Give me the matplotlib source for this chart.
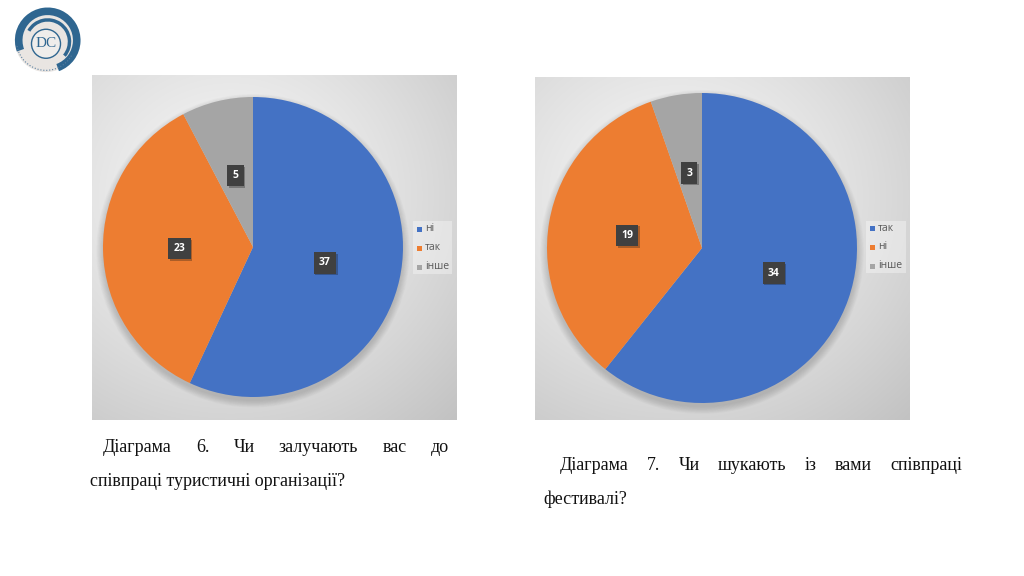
import numpy as np
import matplotlib
matplotlib.use("Agg")
import matplotlib.pyplot as plt
import matplotlib.patches as mpatches
import matplotlib.patheffects as pe

# ---- data ----
cats6 = ["ні", "так", "інше"]
vals6 = [37, 23, 5]
cats7 = ["так", "ні", "інше"]
vals7 = [34, 19, 3]
colors = ["#4472C4", "#ED7D31", "#A5A5A5"]
caption6 = [["Діаграма", "6.", "Чи", "залучають", "вас", "до"],
            ["співпраці туристичні організації?"]]
caption7 = [["Діаграма", "7.", "Чи", "шукають", "із", "вами", "співпраці"],
            ["фестивалі?"]]

W, H = 1024, 576
fig = plt.figure(figsize=(W / 100, H / 100), dpi=100)
fig.patch.set_facecolor("white")


def px_axes(x0, y0, x1, y1, **kw):
    return fig.add_axes([x0 / W, 1 - y1 / H, (x1 - x0) / W, (y1 - y0) / H], **kw)


def panel_bg(x0, y0, x1, y1):
    ax = px_axes(x0, y0, x1, y1)
    ny, nx = 200, 200
    yy, xx = np.mgrid[0:1:ny * 1j, 0:1:nx * 1j]
    r = np.sqrt((xx - 0.38) ** 2 + (yy - 0.35) ** 2) / 0.85
    c = 0.965 - 0.19 * np.clip(r, 0, 1.2) ** 1.3
    img = np.dstack([c, c, c])
    ax.imshow(img, extent=[0, 1, 1, 0], aspect="auto", interpolation="bilinear")
    ax.set_xlim(0, 1)
    ax.set_ylim(1, 0)
    ax.set_axis_off()
    return ax


def draw_pie(cx, cy, r, vals, cats, lx0, ly0, lx1, ly1):
    ax = px_axes(cx - r, cy - r, cx + r, cy + r)
    ax.set_axis_off()
    # soft shadow (mostly below)
    for i in range(10):
        ax.add_patch(mpatches.Circle((0.0, -0.025), 1 + 0.005 * i,
                                     color="black", alpha=0.016, lw=0,
                                     clip_on=False))
    total = sum(vals)
    wedges, texts, autotexts = ax.pie(
        vals, colors=colors, startangle=90, counterclock=False, radius=1,
        autopct=lambda p: f"{round(p * total / 100)}", pctdistance=0.49,
        wedgeprops=dict(linewidth=0, clip_on=False),
        textprops=dict(color="white", fontsize=7.5, fontweight="bold",
                       family="Open Sans"))
    ax.set_xlim(-1, 1)
    ax.set_ylim(-1, 1)
    for t in autotexts:
        t.set_bbox(dict(boxstyle="square,pad=0.5", fc="#404040", ec="none"))
        t.get_bbox_patch().set_path_effects(
            [pe.SimplePatchShadow(offset=(1.2, -1.2), alpha=0.3), pe.Normal()])
    # legend
    lax = px_axes(lx0, ly0, lx1, ly1)
    lax.set_xlim(0, 1)
    lax.set_ylim(0, 1)
    lax.set_axis_off()
    lax.add_patch(mpatches.Rectangle((0, 0), 1, 1, fc="white", alpha=0.35, lw=0))
    h = ly1 - ly0
    ys = [0.86, 0.5, 0.14]
    for i, (c, lab) in enumerate(zip(colors, cats)):
        lax.add_patch(mpatches.Rectangle((0.1, ys[i] - 0.06), 5 / (lx1 - lx0),
                                         5 / h, fc=c, lw=0))
        lax.text(0.3, ys[i], lab, fontsize=7.5, color="#595959",
                 va="center", ha="left", family="Open Sans")


panel_bg(92, 75, 457, 420)
panel_bg(535, 77, 910, 420)
draw_pie(253, 247, 150, vals6, cats6, 413, 221, 452, 274)
draw_pie(702, 248, 155, vals7, cats7, 866, 221, 906, 273)

# ---- captions (justified) ----
renderer = fig.canvas.get_renderer()
FS = 13
FAM = "Liberation Serif"


def justify(words, x0, x1, y):
    ts = [fig.text(0, 1 - y / H, w, fontsize=FS, family=FAM, va="center",
                   ha="left", color="#111111") for w in words]
    widths = [t.get_window_extent(renderer).width for t in ts]
    gap = (x1 - x0 - sum(widths)) / (len(words) - 1)
    x = x0
    for t, w in zip(ts, widths):
        t.set_x(x / W)
        x += w + gap


justify(caption6[0], 103, 449, 447)
fig.text(90 / W, 1 - 481 / H, caption6[1][0], fontsize=FS, family=FAM,
         va="center", ha="left", color="#111111")
justify(caption7[0], 560, 962, 466)
fig.text(543 / W, 1 - 499 / H, caption7[1][0], fontsize=FS, family=FAM,
         va="center", ha="left", color="#111111")

# ---- logo ----
lg = px_axes(8, 6, 84, 76)
lg.set_xlim(-1.1, 1.1)
lg.set_ylim(-1.0, 1.0)
lg.set_aspect("equal")
lg.set_axis_off()
blue = "#2F6690"
lg.add_patch(mpatches.Circle((0, 0), 0.9, fc="#E9E5E2", ec="none"))
lg.add_patch(mpatches.Wedge((0.05, 0.02), 0.95, -70, 200, width=0.22, fc=blue, ec="none"))
lg.add_patch(mpatches.Wedge((0.05, -0.02), 0.68, -40, 150, width=0.1, fc=blue, ec="none"))
lg.add_patch(mpatches.Circle((0.0, -0.08), 0.42, fc="#EFEDEB", ec=blue, lw=1))
lg.text(0.0, -0.08, "DC", fontsize=11, family="Liberation Serif", color=blue,
        ha="center", va="center")
lg.add_patch(mpatches.Arc((0.0, 0.0), 1.7, 1.7, theta1=190, theta2=330,
                          color="#5a7fa0", lw=0.8, ls=":"))

fig.savefig("out.png", dpi=100)
